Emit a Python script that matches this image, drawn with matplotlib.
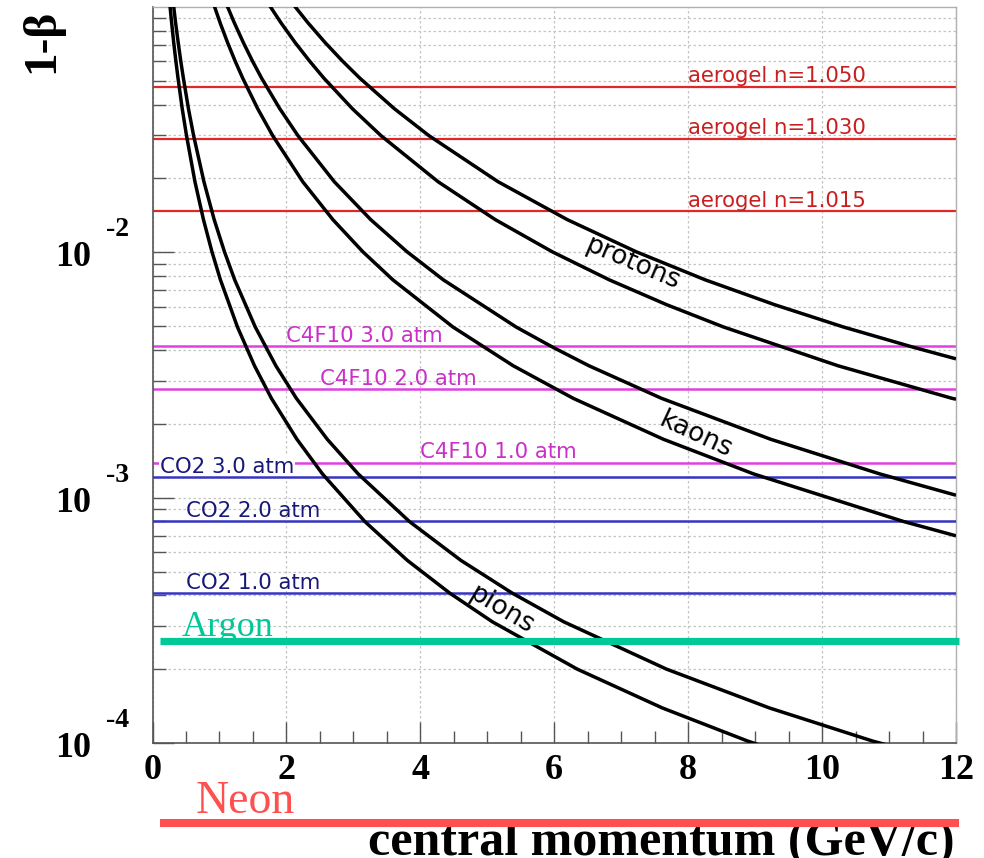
import matplotlib
matplotlib.use("Agg")
import matplotlib.pyplot as plt
from matplotlib.ticker import FixedLocator, MultipleLocator, LogLocator, NullFormatter

# ---------------- data ----------------
pion_hi_p = [0.307, 0.345, 0.384, 0.422, 0.461, 0.537, 0.614, 0.768, 0.921, 1.075, 1.228, 1.535,
             1.842, 2.149, 2.610, 3.071, 3.838, 4.606, 5.374, 6.141, 7.677, 9.212, 10.747, 12.282]
pion_hi_v = [0.1056, 0.0862, 0.0715, 0.0602, 0.0513, 0.0385, 0.0299, 0.0194, 0.0136, 0.01005, 0.00772, 0.00496,
             0.00345, 0.00254, 0.00173, 0.00125, 7.99e-4, 5.55e-4, 4.08e-4, 3.12e-4, 2.00e-4, 1.39e-4, 1.02e-4, 7.81e-5]
pion_lo_p = [0.254, 0.286, 0.317, 0.349, 0.381, 0.444, 0.508, 0.634, 0.761, 0.888, 1.015, 1.269,
             1.523, 1.776, 2.157, 2.538, 3.172, 3.806, 4.441, 5.075, 6.344, 7.613, 8.882, 10.150]
pion_lo_v = [0.1056, 0.0862, 0.0715, 0.0602, 0.0513, 0.0385, 0.0299, 0.0194, 0.0136, 0.01005, 0.00772, 0.00496,
             0.00345, 0.00254, 0.00173, 0.00125, 7.99e-4, 5.55e-4, 4.08e-4, 3.12e-4, 2.00e-4, 1.39e-4, 1.02e-4, 7.81e-5]

kaon_hi_p = [1.086, 1.222, 1.358, 1.493, 1.629, 1.901, 2.172, 2.715, 3.258, 3.802, 4.345, 5.431,
             5.974, 6.517, 7.603, 9.232, 10.861, 12.0]
kaon_hi_v = [0.1056, 0.0862, 0.0715, 0.0602, 0.0513, 0.0385, 0.0299, 0.0194, 0.0136, 0.01005, 0.00772, 0.00496,
             0.00411, 0.00345, 0.00254, 0.00173, 0.00125, 0.001023]
kaon_lo_p = [0.898, 1.010, 1.122, 1.234, 1.347, 1.571, 1.795, 2.244, 2.693, 3.142, 3.591, 4.488,
             5.386, 6.284, 7.630, 8.976, 11.221, 12.0]
kaon_lo_v = [0.1056, 0.0862, 0.0715, 0.0602, 0.0513, 0.0385, 0.0299, 0.0194, 0.0136, 0.01005, 0.00772, 0.00496,
             0.00345, 0.00254, 0.00173, 0.00125, 7.99e-4, 6.99e-4]

proton_hi_p = [2.064, 2.322, 2.580, 2.838, 3.096, 3.612, 4.128, 5.161, 6.193, 7.225, 8.257, 9.289,
               10.321, 11.353, 12.0]
proton_hi_v = [0.1056, 0.0862, 0.0715, 0.0602, 0.0513, 0.0385, 0.0299, 0.0194, 0.0136, 0.01005, 0.00772, 0.00612,
               0.00496, 0.00411, 0.00368]
proton_lo_p = [1.706, 1.919, 2.132, 2.346, 2.559, 2.985, 3.412, 4.265, 5.118, 5.971, 6.824, 7.677,
               8.530, 10.236, 11.942, 12.0]
proton_lo_v = [0.1056, 0.0862, 0.0715, 0.0602, 0.0513, 0.0385, 0.0299, 0.0194, 0.0136, 0.01005, 0.00772, 0.00612,
               0.00496, 0.00345, 0.00254, 0.00252]

aerogel_levels = [0.0474, 0.0291, 0.0147]
aerogel_labels = ["aerogel n=1.050", "aerogel n=1.030", "aerogel n=1.015"]
aerogel_label_x = [8.0, 8.0, 8.0]

c4f10_levels = [4.16e-3, 2.76e-3, 1.39e-3]
c4f10_labels = ["C4F10 3.0 atm", "C4F10 2.0 atm", "C4F10 1.0 atm"]
c4f10_label_x = [2.0, 2.5, 4.0]

co2_levels = [1.217e-3, 8.05e-4, 4.07e-4]
co2_labels = ["CO2 3.0 atm", "CO2 2.0 atm", "CO2 1.0 atm"]
co2_label_x = [0.11, 0.5, 0.5]

argon_level = 2.615e-4
neon_level = 4.72e-5
gas_line_x = [0.11, 12.05]

curve_labels = ["protons", "kaons", "pions"]
curve_label_x = [7.17, 8.11, 5.22]
curve_label_y = [8.96e-3, 1.80e-3, 3.48e-4]
curve_label_rot = [-23, -25, -31]

x_ticks = [0, 2, 4, 6, 8, 10, 12]
y_decades = [1e-4, 1e-3, 1e-2]
y_exponents = ["-4", "-3", "-2"]

# ---------------- figure ----------------
W, H = 984, 858
fig = plt.figure(figsize=(W / 100, H / 100), dpi=100)
ax = fig.add_axes([152.5 / W, 1 - 743 / H, (956 - 152.5) / W, (743 - 7) / H])
ax.set_yscale("log")
ax.set_xlim(0, 12)
ax.set_ylim(1e-4, 1e-1)

serif = "Liberation Serif"
sans = "DejaVu Sans"

# ticks
ax.xaxis.set_major_locator(FixedLocator(x_ticks))
ax.xaxis.set_minor_locator(MultipleLocator(0.5))
ax.yaxis.set_major_locator(FixedLocator(y_decades))
ax.yaxis.set_minor_locator(LogLocator(base=10, subs=[2, 3, 4, 5, 6, 7, 8, 9]))
ax.yaxis.set_minor_formatter(NullFormatter())
ax.set_yticklabels([""] * len(y_decades))
ax.set_xticklabels([str(t) for t in x_ticks])
ax.tick_params(axis="both", which="major", direction="in", length=15, width=1,
               color="#555555", top=False, right=False)
ax.tick_params(axis="both", which="minor", direction="in", length=9, width=1,
               color="#555555", top=False, right=False)
ax.tick_params(axis="x", which="major", pad=8)
for lab in ax.get_xticklabels():
    lab.set_fontfamily(serif)
    lab.set_fontweight("bold")
    lab.set_fontsize(26)

# grid
ax.grid(True, axis="y", which="both", color="#c4c4c4", linestyle=(0, (2, 2)), linewidth=0.9)
ax.grid(True, axis="x", which="major", color="#c4c4c4", linestyle=(0, (2, 2)), linewidth=0.9)
ax.set_axisbelow(True)

for side in ["left", "bottom"]:
    ax.spines[side].set_color("#555555")
    ax.spines[side].set_linewidth(1.2)
for side in ["top", "right"]:
    ax.spines[side].set_color("#b0b0b0")
    ax.spines[side].set_linewidth(1.0)

# y tick labels in ROOT style (10 with raised exponent)
ytrans = ax.get_yaxis_transform()
for v, e in zip(y_decades, y_exponents):
    ax.annotate("10", xy=(0, v), xycoords=ytrans, xytext=(-57, -10), textcoords="offset points",
                ha="center", va="baseline", fontsize=26, fontweight="bold", fontfamily=serif,
                annotation_clip=False)
    ax.annotate(e, xy=(0, v), xycoords=ytrans, xytext=(-25.5, 11.5), textcoords="offset points",
                ha="center", va="baseline", fontsize=20, fontweight="bold", fontfamily=serif,
                annotation_clip=False)

# horizontal threshold lines
aero_line, aero_text = "#e02828", "#c82020"
c4_line, c4_text = "#e040e0", "#c830c8"
co2_line, co2_text = "#3535c0", "#18187a"
lab_fs = 15.3

for lv, lab, lx in zip(aerogel_levels, aerogel_labels, aerogel_label_x):
    ax.axhline(lv, color=aero_line, lw=1.6, zorder=2)
    ax.annotate(lab, xy=(lx, lv), xytext=(0, 3), textcoords="offset points", ha="left",
                va="baseline", fontsize=lab_fs, color=aero_text, fontfamily=sans, zorder=3)

for lv, lab, lx in zip(c4f10_levels, c4f10_labels, c4f10_label_x):
    ax.axhline(lv, color=c4_line, lw=1.8, zorder=2)
    ax.annotate(lab, xy=(lx, lv), xytext=(0, 3), textcoords="offset points", ha="left",
                va="baseline", fontsize=lab_fs, color=c4_text, fontfamily=sans, zorder=3)

for i, (lv, lab, lx) in enumerate(zip(co2_levels, co2_labels, co2_label_x)):
    ax.axhline(lv, color=co2_line, lw=1.8, zorder=4)
    bbox = dict(facecolor="white", edgecolor="none", pad=0.5) if i == 0 else None
    ax.annotate(lab, xy=(lx, lv), xytext=(0, 3), textcoords="offset points", ha="left",
                va="baseline", fontsize=lab_fs, color=co2_text, fontfamily=sans, zorder=3,
                bbox=bbox)

# particle curves
for px, pv in [(pion_hi_p, pion_hi_v), (pion_lo_p, pion_lo_v),
               (kaon_hi_p, kaon_hi_v), (kaon_lo_p, kaon_lo_v),
               (proton_hi_p, proton_hi_v), (proton_lo_p, proton_lo_v)]:
    ax.plot(px, pv, color="black", lw=2.5, zorder=5, solid_capstyle="butt")

for lab, lx, ly, rot in zip(curve_labels, curve_label_x, curve_label_y, curve_label_rot):
    ax.text(lx, ly, lab, rotation=rot, rotation_mode="anchor", ha="center", va="center",
            fontsize=19, fontfamily=sans, color="black", zorder=6)

# x axis title (inside the axes so the Neon line can cross over it)
ax.text(955 / W, 1 - 855 / H, "central momentum (GeV/c)", transform=fig.transFigure,
        ha="right", va="baseline", fontsize=36, fontweight="bold", fontfamily=serif,
        zorder=1, clip_on=False)

# y axis title
fig.text(42 / W, 1 - 41 / H, "1-β", rotation=90, ha="center", va="center",
         fontsize=34, fontweight="bold", fontfamily=serif)

# Argon / Neon overlays
green = "#00c896"
neon_red = "#ff4f4f"
ax.plot(gas_line_x, [argon_level, argon_level], color=green, lw=5.2, zorder=8,
        clip_on=False, solid_capstyle="butt")
ax.annotate("Argon", xy=(0.43, argon_level), xytext=(0, 3.5), textcoords="offset points",
            ha="left", va="baseline", fontsize=26, color=green, fontfamily=serif,
            zorder=8, annotation_clip=False)
ax.plot(gas_line_x, [neon_level, neon_level], color=neon_red, lw=5.8, zorder=9,
        clip_on=False, solid_capstyle="butt")
ax.annotate("Neon", xy=(0.64, neon_level), xytext=(0, 7), textcoords="offset points",
            ha="left", va="baseline", fontsize=33, color=neon_red, fontfamily=serif,
            zorder=9, annotation_clip=False)

fig.savefig("out.png", dpi=100)
